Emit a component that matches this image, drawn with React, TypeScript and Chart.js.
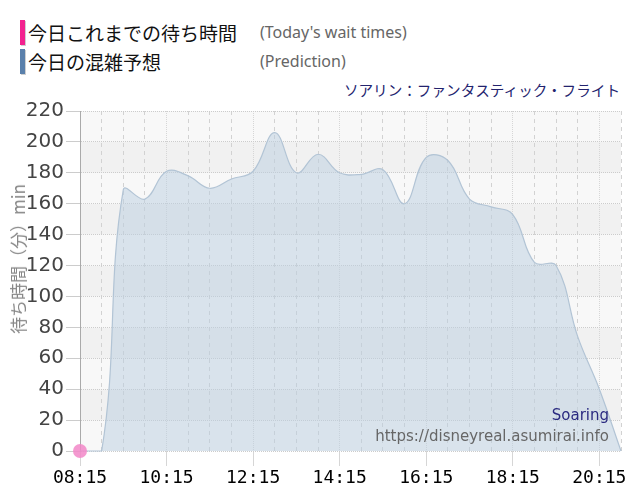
import React, { useEffect, useRef } from 'react';
import { Chart, registerables } from 'chart.js';

Chart.register(...registerables);

const times = [
  '08:15', '08:45', '09:15', '09:45', '10:15', '10:45', '11:15', '11:45',
  '12:15', '12:45', '13:15', '13:45', '14:15', '14:45', '15:15', '15:45',
  '16:15', '16:45', '17:15', '17:45', '18:15', '18:45', '19:15', '19:45',
  '20:15', '20:45',
];
const prediction = [
  0, 0, 169, 163, 181, 178, 170, 176,
  181, 206, 180, 192, 180, 179, 182, 160,
  190, 188, 163, 158, 153, 122, 120, 74,
  40, 0,
];
const todayValues = [0];
const xTickLabels = ['08:15', '10:15', '12:15', '14:15', '16:15', '18:15', '20:15'];
const yMin = 0;
const yMax = 220;
const yStep = 20;

const legendJa = ['今日これまでの待ち時間', '今日の混雑予想'];
const legendEn = ["(Today's wait times)", '(Prediction)'];
const legendColors = ['#f2228f', '#5a80ab'];
const chartTitle = 'ソアリン：ファンタスティック・フライト';
const yTitle = '待ち時間（分）min';
const watermark1 = 'Soaring';
const watermark2 = 'https://disneyreal.asumirai.info';

const isMajor = (i: number) => xTickLabels.includes(times[i]);

const bandPlugin = {
  id: 'bands',
  beforeDraw(chart: any) {
    const { ctx, chartArea, scales } = chart;
    const y = scales.y;
    ctx.save();
    for (let v = yMin; v < yMax; v += yStep) {
      const idx = Math.round(v / yStep);
      ctx.fillStyle = idx % 2 === 1 ? '#f1f1f1' : '#f8f8f8';
      const top = y.getPixelForValue(v + yStep);
      const bot = y.getPixelForValue(v);
      ctx.fillRect(chartArea.left, top, chartArea.right - chartArea.left, bot - top);
    }
    ctx.restore();
  },
};

const watermarkPlugin = {
  id: 'watermark',
  afterDatasetsDraw(chart: any) {
    const { ctx, chartArea } = chart;
    ctx.save();
    ctx.textAlign = 'right';
    ctx.textBaseline = 'middle';
    ctx.font = '15px "DejaVu Sans"';
    ctx.fillStyle = '#2a2a80';
    ctx.fillText(watermark1, chartArea.right - 12, chartArea.bottom - 35);
    ctx.fillStyle = '#666666';
    ctx.fillText(watermark2, chartArea.right - 12, chartArea.bottom - 14);
    ctx.restore();
  },
};

export default function App() {
  const canvasRef = useRef<HTMLCanvasElement | null>(null);

  useEffect(() => {
    if (!canvasRef.current) return;
    const chart = new Chart(canvasRef.current, {
      type: 'line',
      data: {
        labels: times,
        datasets: [
          {
            label: legendJa[0],
            data: todayValues,
            showLine: false,
            pointRadius: 7,
            pointHoverRadius: 7,
            pointBackgroundColor: 'rgba(242,135,200,0.85)',
            pointBorderWidth: 0,
            borderWidth: 0,
            clip: 10,
          },
          {
            label: legendJa[1],
            data: prediction,
            borderColor: '#b2c4d5',
            borderWidth: 1.2,
            backgroundColor: 'rgba(186,206,224,0.5)',
            fill: 'origin',
            pointRadius: 0,
            tension: 0.4,
            clip: 4,
          },
        ],
      },
      options: {
        animation: false,
        responsive: true,
        maintainAspectRatio: false,
        layout: { padding: { top: 111, right: 19, bottom: 0, left: 0 } },
        plugins: {
          legend: { display: false },
          tooltip: { enabled: false },
          title: { display: false },
        },
        scales: {
          x: {
            type: 'category',
            offset: false,
            afterFit: (scale: any) => { scale.height = 49; },
            grid: {
              color: (ctx: any) => (isMajor(ctx.index) ? '#d6d6d6' : '#d2d2d2'),
              tickColor: (ctx: any) => (isMajor(ctx.index) ? '#d6d6d6' : 'rgba(0,0,0,0)'),
              tickLength: 15,
              lineWidth: 1,
            },
            border: {
              display: false,
              dash: (ctx: any) => (isMajor(ctx.index) ? [1, 1] : [4, 4]),
            },
            ticks: {
              autoSkip: false,
              maxRotation: 0,
              minRotation: 0,
              padding: 2,
              color: '#000000',
              font: { family: '"DejaVu Sans Mono"', size: 18 },
              callback: (_v: any, i: number) => (isMajor(i) ? times[i] : ''),
            },
          },
          y: {
            min: yMin,
            max: yMax,
            afterFit: (scale: any) => { scale.width = 80; },
            grid: {
              color: '#cccccc',
              tickColor: '#cccccc',
              tickLength: 14,
              lineWidth: 1,
            },
            border: { display: true, color: '#aaaaaa', width: 1, dash: [1, 1] },
            ticks: {
              stepSize: yStep,
              padding: 2,
              color: '#444444',
              font: { family: '"DejaVu Sans"', size: 20 },
            },
          },
        },
      },
      plugins: [bandPlugin, watermarkPlugin],
    });
    return () => chart.destroy();
  }, []);

  const jaFont = '"Noto Sans CJK JP", sans-serif';
  return (
    <div style={{ position: 'absolute', left: 0, top: 0, width: 640, height: 500, background: '#fff', overflow: 'hidden' }}>
      {legendJa.map((t, i) => (
        <React.Fragment key={t}>
          <div style={{ position: 'absolute', left: 20, top: 20 + i * 29, width: 5, height: 25, background: legendColors[i], boxShadow: '1px 1px 0 #cfcfcf' }} />
          <div style={{ position: 'absolute', left: 28, top: 20 + i * 29, height: 25, lineHeight: '25px', fontFamily: jaFont, fontSize: 19, color: '#111', whiteSpace: 'nowrap' }}>{t}</div>
          <div style={{ position: 'absolute', left: 260, top: 20 + i * 29, height: 25, lineHeight: '25px', fontFamily: '"Noto Sans", sans-serif', fontSize: 16, color: '#666', whiteSpace: 'nowrap' }}>{legendEn[i]}</div>
        </React.Fragment>
      ))}
      <div style={{ position: 'absolute', right: 20, top: 79, height: 22, lineHeight: '22px', fontFamily: jaFont, fontSize: 14.6, color: '#23236e', whiteSpace: 'nowrap' }}>{chartTitle}</div>
      <div style={{ position: 'absolute', left: 0, top: 0, width: 640, height: 500 }}>
        <canvas ref={canvasRef} />
      </div>
      <div style={{ position: 'absolute', left: 18, top: 259, transform: 'translate(-50%, -50%) rotate(-90deg)', fontFamily: jaFont, fontSize: 17, color: '#888', whiteSpace: 'nowrap', lineHeight: '20px' }}>{yTitle}</div>
    </div>
  );
}
